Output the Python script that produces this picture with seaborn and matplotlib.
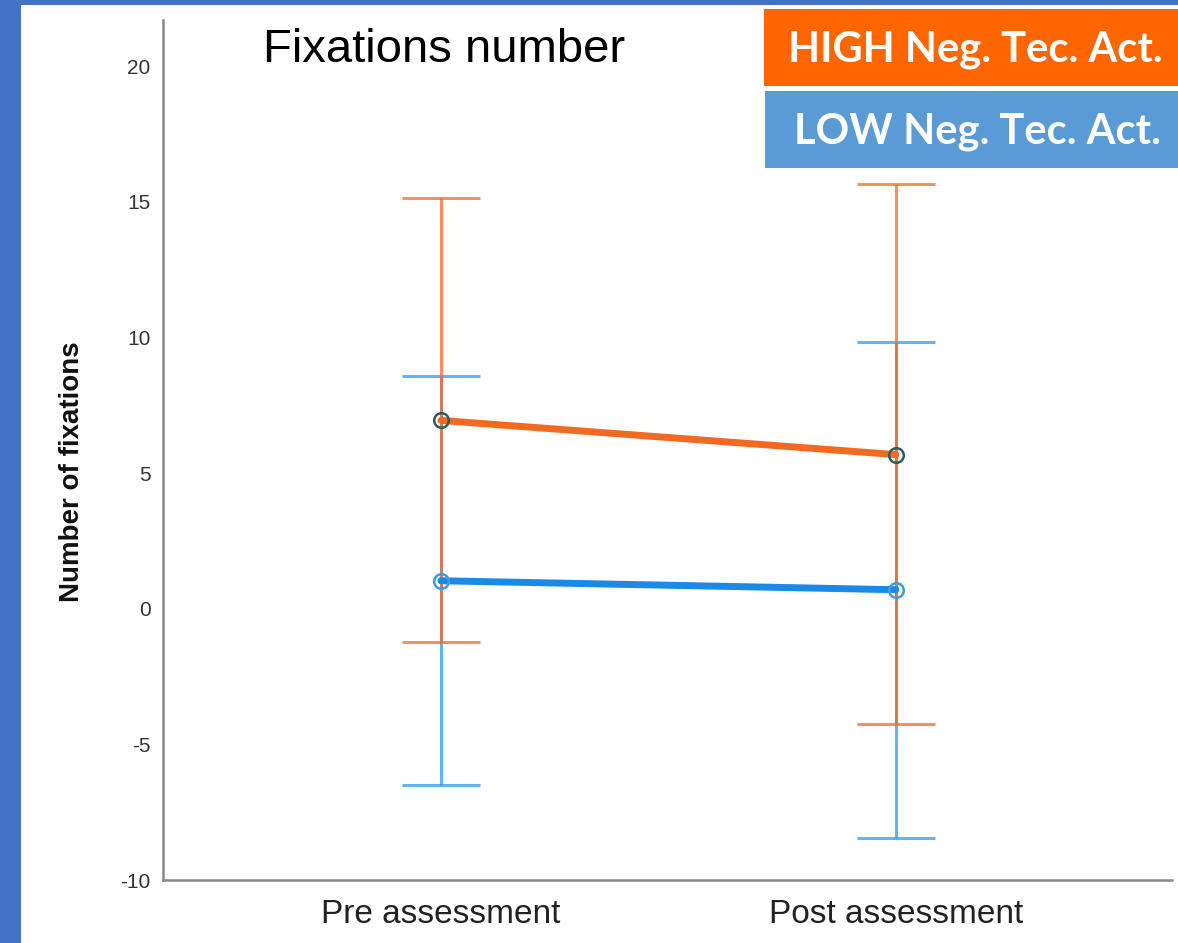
import matplotlib
matplotlib.use("Agg")
import matplotlib.pyplot as plt
import seaborn as sns
import pandas as pd
from matplotlib.patches import Rectangle

# ---- data ----
time_points = ["Pre assessment", "Post assessment"]
groups = ["HIGH Neg. Tec. Act.", "LOW Neg. Tec. Act."]
high_mean = [6.94, 5.68]
high_lower = [-1.22, -4.24]
high_upper = [15.13, 15.65]
low_mean = [1.03, 0.70]
low_lower = [-6.49, -8.45]
low_upper = [8.56, 9.82]
y_ticks = [-10, -5, 0, 5, 10, 15, 20]

sns.set_theme(style="white")
plt.rcParams['font.family'] = ['Liberation Sans', 'DejaVu Sans']

df = pd.DataFrame({
    "time": time_points * 2,
    "pos": [0, 1] * 2,
    "mean": high_mean + low_mean,
    "lower": high_lower + low_lower,
    "upper": high_upper + low_upper,
    "group": [groups[0]] * 2 + [groups[1]] * 2,
})

fig = plt.figure(figsize=(11.78, 9.43), dpi=100)
fig.patch.set_facecolor("white")
ax = fig.add_axes([163/1178, 1-880/943, (1172-163)/1178, (880-20)/943])

line_col = {groups[0]: "#f26a21", groups[1]: "#1a8ae6"}
bar_col = {groups[0]: "#f26b2b", groups[1]: "#2d9bf0"}
edge_col = {groups[0]: "#2e5e5a", groups[1]: "#3a9de8"}

# error bars (low first, then high)
for g in [groups[1], groups[0]]:
    d = df[df.group == g]
    ax.errorbar(d["pos"], d["mean"],
                yerr=[d["mean"] - d["lower"], d["upper"] - d["mean"]],
                fmt="none", ecolor=bar_col[g], elinewidth=2.2, capsize=28,
                capthick=2.2, alpha=0.75, zorder=2)

sns.lineplot(data=df, x="pos", y="mean", hue="group", palette=line_col,
             linewidth=5, legend=False, ax=ax, zorder=3)
for g in groups:
    d = df[df.group == g]
    ax.plot(d["pos"], d["mean"], linestyle="none", marker="o", markersize=10.5,
            markerfacecolor="none", markeredgecolor=edge_col[g],
            markeredgewidth=1.8, zorder=4)

ax.set_xlim(-0.611, 1.607)
ax.set_ylim(-10, 21.7)
ax.set_yticks(y_ticks)
ax.set_yticklabels([str(t) for t in y_ticks], fontsize=15, color="#333333")
ax.set_xticks([0, 1])
ax.set_xticklabels(time_points, fontsize=24, color="#222222")
ax.tick_params(axis="both", length=0)
ax.tick_params(axis="y", pad=9)
ax.tick_params(axis="x", pad=14)
ax.set_xlabel("")
ax.set_ylabel("")
for s in ["top", "right"]:
    ax.spines[s].set_visible(False)
for s in ["left", "bottom"]:
    ax.spines[s].set_color("#888888")
    ax.spines[s].set_linewidth(1.8)

fig.text(72/1178, 1-472/943, "Number of fixations", rotation=90,
         ha="center", va="center", fontsize=20, fontweight="bold", color="#111111")

fig.text(263/1178, 1-50/943, "Fixations number", ha="left", va="center",
         fontsize=34, color="#000000")

# blue frame
fig.patches.append(Rectangle((0, 0), 21/1178, 1, transform=fig.transFigure,
                             facecolor="#4472c4", edgecolor="none", zorder=0))
fig.patches.append(Rectangle((0, 1-5/943), 1, 5/943, transform=fig.transFigure,
                             facecolor="#4472c4", edgecolor="none", zorder=0))

# legend boxes
fig.patches.append(Rectangle((764/1178, 1-86/943), (1178-764)/1178, 77/943,
                             transform=fig.transFigure, facecolor="#ff6600",
                             edgecolor="none", zorder=5))
fig.patches.append(Rectangle((765/1178, 1-168/943), (1178-765)/1178, 77/943,
                             transform=fig.transFigure, facecolor="#5b9bd5",
                             edgecolor="none", zorder=5))
fig.text(975/1178, 1-50/943, groups[0], ha="center", va="center",
         fontsize=30, fontweight="bold", color="white", family=["Lato", "DejaVu Sans"], zorder=6)
fig.text(977/1178, 1-132/943, groups[1], ha="center", va="center",
         fontsize=30, fontweight="bold", color="white", family=["Lato", "DejaVu Sans"], zorder=6)

fig.savefig("out.png", dpi=100)
